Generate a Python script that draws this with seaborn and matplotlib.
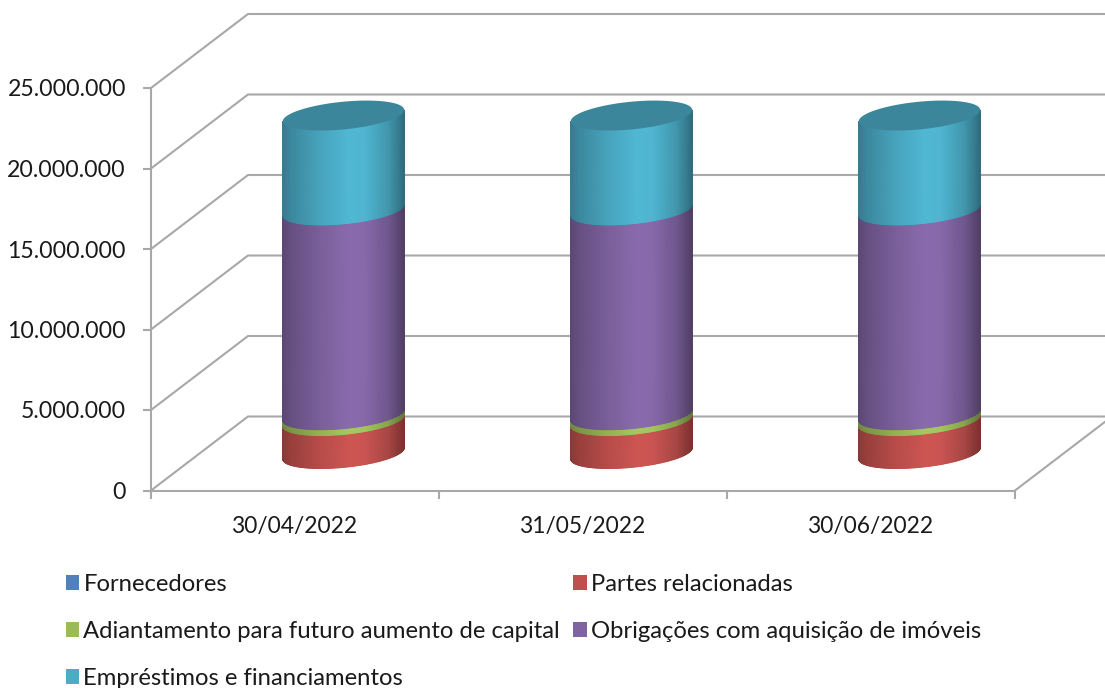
"""
Stacked 3D cylinder chart - seaborn bars give the positions, cylinders drawn on top
"""

import matplotlib
matplotlib.use('Agg')
import matplotlib.pyplot as plt
from matplotlib.patches import Patch, Polygon
from matplotlib.colors import to_rgb, LinearSegmentedColormap
from matplotlib.ticker import FuncFormatter
import seaborn as sns
import numpy as np
import pandas as pd

sns.set_theme(style="white")
plt.rcParams['font.family'] = ['Lato', 'DejaVu Sans']

dates = ['30/04/2022', '31/05/2022', '30/06/2022']
series = ['Fornecedores', 'Partes relacionadas',
          'Adiantamento para futuro aumento de capital',
          'Obrigações com aquisição de imóveis',
          'Empréstimos e financiamentos']
fornecedores = [0, 0, 0]
partes = [2050000, 2050000, 2050000]
adiantamento = [360000, 360000, 360000]
obrigacoes = [12720000, 12720000, 12720000]
emprestimos = [5860000, 5860000, 5860000]
colors = ['#4f81bd', '#c0504d', '#9bbb59', '#8064a2', '#4bacc6']
yticks = [0, 5000000, 10000000, 15000000, 20000000, 25000000]

W, H = 1105, 688
PX_X = 288.0      # pixels per category
PX_Y = 16.1e-6    # pixels per unit
DEPTH_X = 97 / PX_X
DEPTH_Y = 74 / PX_Y
RING_Y = 0.2027 * DEPTH_Y   # cylinder radius seen along the depth
RING_X = 23 / PX_X          # sideways lean of the same radius
GRID = '#a8a8a8'

fig = plt.figure(figsize=(W / 100, H / 100), dpi=100)
ax = fig.add_axes([151 / W, (H - 490.5) / H, (W - 151) / W, 490.5 / H])

# stacked bars with seaborn, tallest first, only used for the geometry
stack = np.cumsum([fornecedores, partes, adiantamento, obrigacoes, emprestimos], axis=0)
segments = []
for i in range(len(series) - 1, -1, -1):
    df = pd.DataFrame({'pos': np.arange(len(dates)), 'value': stack[i]})
    sns.barplot(data=df, x='pos', y='value', color=colors[i], width=0.39, native_scale=True, ax=ax)
    segments.insert(0, list(ax.containers[-1]))
for bars in segments:
    for bar in bars:
        bar.set_visible(False)

xmin, xmax = -0.5, -0.5 + (W - 151) / PX_X
ymax = 490.5 / PX_Y


def gridline(x, y):
    ax.plot([x, x + DEPTH_X, xmax + 1], [y, y + DEPTH_Y, y + DEPTH_Y],
            color=GRID, lw=1.5, zorder=1, solid_joinstyle='miter')


for y in yticks:
    gridline(-0.5, y)
ax.plot([2.5, 2.5 + DEPTH_X], [0, DEPTH_Y], color=GRID, lw=1.5, zorder=1)


def ring(cx, y, half, t):
    """Point on the cylinder's circle, seen through the chart's skew"""
    px = cx + half * np.cos(t) + RING_X * np.sin(t) + 0.5 * DEPTH_X
    py = y + 0.5 * DEPTH_Y + RING_Y * np.sin(t)
    return px, py


shade_pos = [0, 0.07, 0.3, 0.55, 0.68, 0.88, 1]
shade_val = [0.72, 0.8, 0.95, 1.07, 1.05, 0.87, 0.64]

for i, bars in enumerate(segments):
    base = np.array(to_rgb(colors[i]))
    cmap = LinearSegmentedColormap.from_list(
        f'cyl{i}', [(p, tuple(np.clip(v * base, 0, 1))) for p, v in zip(shade_pos, shade_val)])
    for j, bar in enumerate(bars):
        top = bar.get_y() + bar.get_height()
        bottom = stack[i - 1][j] if i else 0
        if top - bottom <= 0:
            continue
        half = bar.get_width() / 2
        cx = bar.get_x() + half
        t0 = np.arctan2(RING_X, half)
        t = np.linspace(np.pi + t0, 2 * np.pi + t0, 120)
        x0, y0 = ring(cx, bottom, half, t)
        x1, y1 = ring(cx, top, half, t)
        gx = np.vstack([x0, x1])
        gy = np.vstack([y0, y1])
        reach = np.hypot(half, RING_X)
        gc = (gx - (cx + 0.5 * DEPTH_X - reach)) / (2 * reach)
        ax.pcolormesh(gx, gy, gc, shading='gouraud', cmap=cmap, vmin=0, vmax=1, zorder=2 + i)
        if i == len(segments) - 1:
            lx, ly = ring(cx, top, half, np.linspace(0, 2 * np.pi, 120))
            ax.add_patch(Polygon(np.column_stack([lx, ly]), closed=True, facecolor=base * 0.78,
                                 edgecolor='none', zorder=10, clip_on=False))

ax.set_xlim(xmin, xmax)
ax.set_ylim(0, ymax)
ax.set_xlabel('')
ax.set_ylabel('')
ax.set_yticks(yticks)
ax.yaxis.set_major_formatter(FuncFormatter(lambda v, p: f'{int(v):,}'.replace(',', '.')))
ax.set_xticks([0, 1, 2])
ax.set_xticklabels(dates)
ax.set_xticks([-0.5, 0.5, 1.5, 2.5], minor=True)
ax.tick_params(axis='y', which='major', left=True, length=6, width=1.5, color=GRID, pad=12,
               labelsize=16.7, labelcolor='#1a1a1a')
ax.tick_params(axis='x', which='major', bottom=False, length=0, pad=18.5,
               labelsize=16.4, labelcolor='#1a1a1a')
ax.tick_params(axis='x', which='minor', bottom=True, length=6, width=1.5, color=GRID)
sns.despine(ax=ax, top=True, right=True)
ax.spines['left'].set_bounds(0, yticks[-1])
ax.spines['bottom'].set_bounds(-0.5, 2.5)
for side in ['left', 'bottom']:
    ax.spines[side].set_color(GRID)
    ax.spines[side].set_linewidth(1.5)
ax.patch.set_alpha(0)

# legend fills column by column, so order gives the rows of the original
order = [0, 2, 4, 1, 3]
handles = [Patch(facecolor=colors[i], edgecolor='none', label=series[i]) for i in order]
fig.legend(handles=handles, loc='upper left', bbox_to_anchor=(56 / W, 1 - 564.5 / H), ncol=2,
           frameon=False, fontsize=17.2, handlelength=0.58, handleheight=0.58,
           handletextpad=0.17, labelspacing=1.08, columnspacing=0.55, labelcolor='#1a1a1a',
           borderpad=0.4, borderaxespad=0)

fig.savefig('out.png', dpi=100)
